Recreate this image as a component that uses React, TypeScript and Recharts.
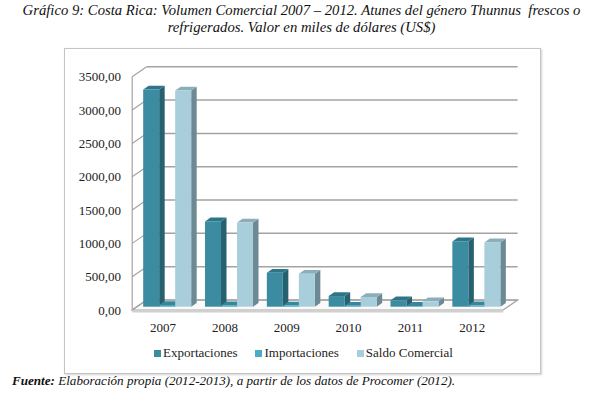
import React from "react";
import { BarChart, Bar, XAxis, YAxis, CartesianGrid } from "recharts";

const years = ["2007", "2008", "2009", "2010", "2011", "2012"];
const exportaciones = [3260, 1280, 510, 160, 95, 980];
const importaciones = [25, 22, 18, 15, 12, 20];
const saldoComercial = [3245, 1262, 495, 145, 80, 965];
const yTicks = [0, 500, 1000, 1500, 2000, 2500, 3000, 3500];
const seriesNames = ["Exportaciones", "Importaciones", "Saldo Comercial"];

const data = years.map((year, i) => ({
  year,
  exportaciones: exportaciones[i],
  importaciones: importaciones[i],
  saldo: saldoComercial[i],
}));

const W = 603;
const H = 394;
// plot area = plane where the bars stand (Excel puts them inside the 3D depth)
const PLOT = { left: 137, right: 508, top: 73.5, bottom: 306.7 };
const BACK = { dx: 9.6, dy: -6.7 };
const FRONT = { dx: -4.8, dy: 3.3 };
const DEPTH = { dx: 5.5, dy: -3.8 };
const Y_AXIS_W = 60;
const X_AXIS_H = 30;

const FONT = '"Liberation Serif", Tinos, "DejaVu Serif", serif';

const palette = [
  { front: "#3b8ba1", side: "#27606f", top: "#2f7588", legend: "#3b8ba1" },
  { front: "#45a3bc", side: "#2f7283", top: "#36879c", legend: "#4bacc6" },
  { front: "#a8cedc", side: "#6d8a94", top: "#8caeba", legend: "#a8cedc" },
];

function makeBar3D(c: { front: string; side: string; top: string }) {
  return (props: any) => {
    const { x, y, width, height } = props;
    if (width == null || height == null) return <g />;
    const x2 = x + width;
    const y2 = y + height;
    return (
      <g>
        <polygon
          points={`${x2},${y} ${x2 + DEPTH.dx},${y + DEPTH.dy} ${x2 + DEPTH.dx},${y2 + DEPTH.dy} ${x2},${y2}`}
          fill={c.side}
        />
        <polygon
          points={`${x},${y} ${x + DEPTH.dx},${y + DEPTH.dy} ${x2 + DEPTH.dx},${y + DEPTH.dy} ${x2},${y}`}
          fill={c.top}
        />
        <rect x={x} y={y} width={width} height={Math.max(height, 0)} fill={c.front} />
      </g>
    );
  };
}

// gridlines on the back wall + diagonal on the side wall, floor under 0
function gridLine(p: any) {
  const { x1, x2, y1 } = p;
  const isFloor = Math.abs(y1 - PLOT.bottom) < 1;
  const isTop = Math.abs(y1 - PLOT.top) < 1;
  const stroke = "#a3a3a3";
  return (
    <g key={p.key}>
      {isFloor && (
        <>
          <polygon
            points={`${x1 + FRONT.dx},${y1 + FRONT.dy} ${x2 + FRONT.dx},${y1 + FRONT.dy} ${x2 + BACK.dx},${y1 + BACK.dy} ${x1 + BACK.dx},${y1 + BACK.dy}`}
            fill="#fafafa"
            stroke={stroke}
            strokeWidth={1.2}
          />
          <line
            x1={x1 + FRONT.dx}
            x2={x2 + FRONT.dx}
            y1={y1 + FRONT.dy + 1.5}
            y2={y1 + FRONT.dy + 1.5}
            stroke="#d0d0d0"
            strokeWidth={2}
          />
        </>
      )}
      {isTop && (
        <line
          x1={x1 + FRONT.dx}
          x2={x1 + FRONT.dx}
          y1={y1 + FRONT.dy}
          y2={PLOT.bottom + FRONT.dy}
          stroke={stroke}
          strokeWidth={1.2}
        />
      )}
      <line
        x1={x1 + BACK.dx}
        x2={x2 + BACK.dx}
        y1={y1 + BACK.dy}
        y2={y1 + BACK.dy}
        stroke={stroke}
        strokeWidth={1.5}
      />
      <line
        x1={x1 + FRONT.dx}
        y1={y1 + FRONT.dy}
        x2={x1 + BACK.dx}
        y2={y1 + BACK.dy}
        stroke={stroke}
        strokeWidth={1.2}
      />
    </g>
  );
}

const fmt = (v: number) => v.toFixed(2).replace(".", ",");

function YTick(props: any) {
  const { y, payload } = props;
  return (
    <text
      x={121}
      y={y + FRONT.dy}
      textAnchor="end"
      dominantBaseline="central"
      style={{ fontFamily: FONT }}
      fontSize={13}
      fill="#222"
    >
      {fmt(payload.value)}
    </text>
  );
}

function XTick(props: any) {
  const { x, payload } = props;
  return (
    <text
      x={x + FRONT.dx}
      y={327}
      textAnchor="middle"
      dominantBaseline="central"
      style={{ fontFamily: FONT }}
      fontSize={13}
      fill="#222"
    >
      {payload.value}
    </text>
  );
}

export default function App() {
  return (
    <div style={{ position: "absolute", left: 0, top: 0, width: W, height: H, background: "#fff", fontFamily: FONT }}>
      <div
        style={{
          position: "absolute",
          left: 0,
          top: 2,
          width: W,
          textAlign: "center",
          fontStyle: "italic",
          fontSize: 14.7,
          lineHeight: "17px",
          color: "#111",
          whiteSpace: "pre",
          fontFamily: FONT,
        }}
      >
        {"Gráfico 9: Costa Rica: Volumen Comercial 2007 – 2012. Atunes del género Thunnus  frescos o\nrefrigerados. Valor en miles de dólares (US$)"}
      </div>

      <div
        style={{
          position: "absolute",
          left: 64,
          top: 48,
          width: 475,
          height: 324,
          border: "1px solid #c4c4c4",
          boxShadow: "1px 1px 2px rgba(0,0,0,0.18)",
        }}
      />

      <div style={{ position: "absolute", left: 0, top: 0 }}>
        <BarChart
          width={W}
          height={H}
          data={data}
          margin={{
            top: PLOT.top,
            right: W - PLOT.right,
            bottom: H - PLOT.bottom - X_AXIS_H,
            left: PLOT.left - Y_AXIS_W,
          }}
          barCategoryGap="10%"
          barGap={0}
        >
          <CartesianGrid vertical={false} horizontal={gridLine} />
          <XAxis dataKey="year" height={X_AXIS_H} axisLine={false} tickLine={false} tick={<XTick />} interval={0} />
          <YAxis
            width={Y_AXIS_W}
            domain={[0, 3500]}
            ticks={yTicks}
            axisLine={false}
            tickLine={false}
            tick={<YTick />}
            interval={0}
          />
          <Bar dataKey="exportaciones" name={seriesNames[0]} isAnimationActive={false} shape={makeBar3D(palette[0])} />
          <Bar dataKey="importaciones" name={seriesNames[1]} isAnimationActive={false} shape={makeBar3D(palette[1])} />
          <Bar dataKey="saldo" name={seriesNames[2]} isAnimationActive={false} shape={makeBar3D(palette[2])} />
        </BarChart>
      </div>

      <div
        style={{
          position: "absolute",
          left: 0,
          top: 345,
          width: W,
          display: "flex",
          justifyContent: "center",
          gap: 18,
          fontSize: 13,
          color: "#222",
          paddingLeft: 2,
          fontFamily: FONT,
        }}
      >
        {seriesNames.map((name, i) => (
          <div key={name} style={{ display: "flex", alignItems: "center", gap: 2 }}>
            <span style={{ width: 7, height: 7, background: palette[i].legend, display: "inline-block" }} />
            <span>{name}</span>
          </div>
        ))}
      </div>

      <div
        style={{
          position: "absolute",
          left: 12,
          top: 373,
          fontStyle: "italic",
          fontSize: 13.1,
          color: "#111",
          whiteSpace: "nowrap",
          fontFamily: FONT,
        }}
      >
        <b>Fuente:</b> Elaboración propia (2012-2013), a partir de los datos de Procomer (2012).
      </div>
    </div>
  );
}
